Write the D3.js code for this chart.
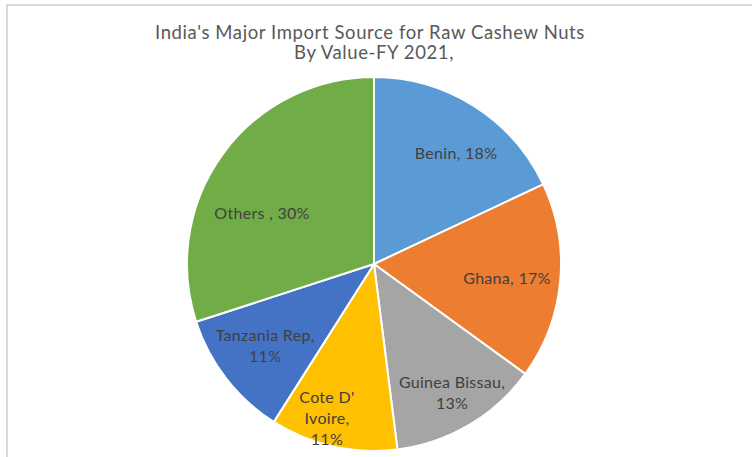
<!DOCTYPE html>
<html>
<head>
<meta charset="utf-8">
<script src="https://cdn.jsdelivr.net/npm/d3@7"></script>
<style>
  html, body { margin: 0; padding: 0; background: #fff; }
  svg { display: block; }
</style>
</head>
<body>
<svg id="chart" width="752" height="457"></svg>
<script>
// ---- data ----
const categories = ["Benin", "Ghana", "Guinea Bissau", "Cote D' Ivoire", "Tanzania Rep", "Others "];
const values = [18, 17, 13, 11, 11, 30];
const labelLines = [
  ["Benin, 18%"],
  ["Ghana, 17%"],
  ["Guinea Bissau,", "13%"],
  ["Cote D'", "Ivoire,", "11%"],
  ["Tanzania Rep,", "11%"],
  ["Others , 30%"]
];
const titleLines = ["India's Major Import Source for Raw Cashew Nuts", "By Value-FY 2021,"];

// ---- layout / style ----
const colors = ["#5B9BD5", "#ED7D31", "#A5A5A5", "#FFC000", "#4472C4", "#70AD47"];
// label placement: radial fraction and angular nudge (degrees)
const labelRadius = [0.738, 0.715, 0.806, 0.861, 0.729, 0.658];
const labelNudge = [4.1, 0.6, -0.6, 4.4, 0.8, -11.5];

const W = 752, H = 457;
const cx = 374, cy = 264, R = 187;
const fontFam = "'Gill Sans', 'Gill Sans MT', Lato, 'Open Sans', sans-serif";

const svg = d3.select("#chart");

// frame lines
svg.append("line").attr("x1", 6).attr("x2", W).attr("y1", 5).attr("y2", 5)
  .attr("stroke", "#d9d9d9").attr("stroke-width", 2);
svg.append("line").attr("x1", 7).attr("x2", 7).attr("y1", 4).attr("y2", H)
  .attr("stroke", "#d9d9d9").attr("stroke-width", 2);

// title
const title = svg.append("text")
  .attr("text-anchor", "middle")
  .attr("font-family", fontFam)
  .attr("font-size", 18.5)
  .attr("letter-spacing", 0.6)
  .attr("fill", "#595959");
titleLines.forEach((t, i) => {
  title.append("tspan").attr("x", i === 0 ? 370 : 374).attr("y", 39 + i * 20).text(t);
});

const data = categories.map((c, i) => ({ name: c, value: values[i], idx: i }));
const pie = d3.pie().value(d => d.value).sort(null);
const arcs = pie(data);
const arc = d3.arc().innerRadius(0).outerRadius(R);

const g = svg.append("g").attr("transform", `translate(${cx},${cy})`);

g.selectAll("path.slice")
  .data(arcs)
  .join("path")
  .attr("class", "slice")
  .attr("d", arc)
  .attr("fill", d => colors[d.data.idx])
  .attr("stroke", "#fff")
  .attr("stroke-width", 2)
  .attr("stroke-linejoin", "round");

const lineH = 21;
g.selectAll("text.lbl")
  .data(arcs)
  .join("text")
  .attr("class", "lbl")
  .attr("text-anchor", "middle")
  .attr("font-family", fontFam)
  .attr("font-size", 16)
  .attr("letter-spacing", 0.3)
  .attr("fill", "#404040")
  .each(function(d) {
    const i = d.data.idx;
    const a = (d.startAngle + d.endAngle) / 2 + labelNudge[i] * Math.PI / 180;
    const r = R * labelRadius[i];
    const x = r * Math.sin(a);
    const y = -r * Math.cos(a);
    const lines = labelLines[i];
    const y0 = y - (lines.length - 1) * lineH / 2;
    const t = d3.select(this);
    lines.forEach((ln, k) => {
      t.append("tspan").attr("x", x).attr("y", y0 + k * lineH).attr("dy", "0.35em").text(ln);
    });
  });
</script>
</body>
</html>
